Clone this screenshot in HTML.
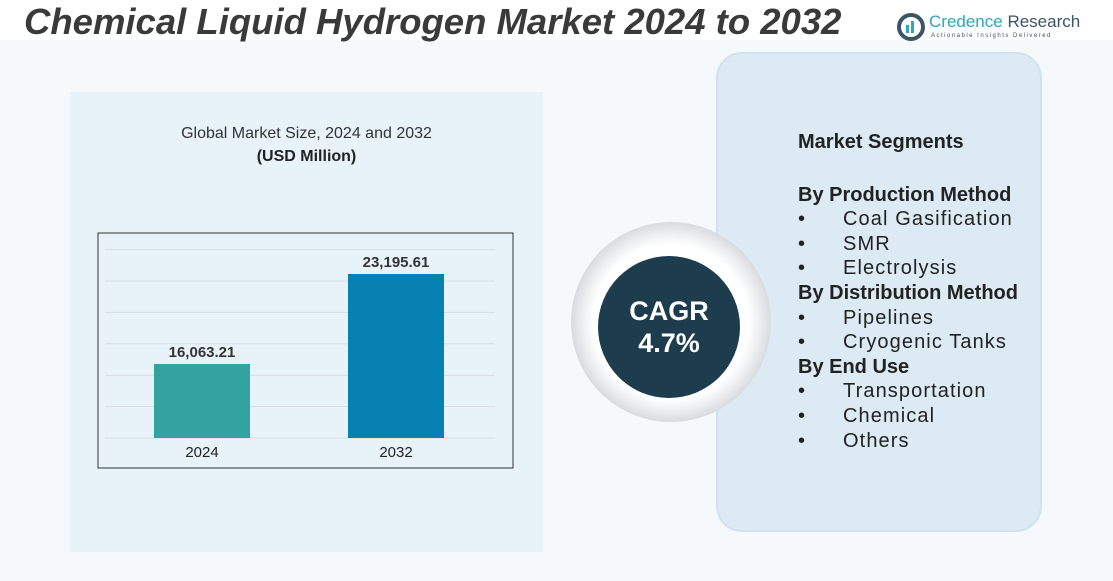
<!DOCTYPE html>
<html><head><meta charset="utf-8"><style>
body{margin:0;width:1113px;height:581px;overflow:hidden;background:#fff;font-family:"Liberation Sans",sans-serif;position:relative}
.abs{position:absolute}
.it span{letter-spacing:1.1px}
</style></head><body>
<div class="abs" style="left:0;top:40px;width:1113px;height:541px;background:#f6f9fb"></div>
<div class="abs" style="left:24px;top:1px;font-size:36.5px;font-weight:bold;font-style:italic;color:#3a3a3a;white-space:nowrap">Chemical Liquid Hydrogen Market 2024 to 2032</div>
<div class="abs" style="left:897px;top:10px;width:200px;height:34px">
 <svg width="28" height="28" style="position:absolute;left:0;top:3px"><circle cx="14" cy="14" r="12" fill="none" stroke="#3b5566" stroke-width="4"/><rect x="9" y="12" width="3" height="8" fill="#2fa7b9"/><rect x="14" y="8" width="3" height="12" fill="#2fa7b9"/></svg>
 <div class="abs" style="left:32px;top:2px;font-size:17px;color:#2fa7b9;white-space:nowrap">Credence <span style="color:#3b5566">Research</span></div>
 <div class="abs" style="left:34px;top:23px;font-size:6px;color:#3b5566;letter-spacing:1.5px;white-space:nowrap">Actionable Insights Delivered</div>
</div>
<div class="abs" style="left:70px;top:92px;width:473px;height:460px;background:#e8f2f9"></div>
<div class="abs" style="left:70px;top:125px;width:473px;text-align:center;font-size:16px;color:#333">Global Market Size, 2024 and 2032</div>
<div class="abs" style="left:70px;top:148px;width:473px;text-align:center;font-size:16px;font-weight:bold;color:#222">(USD Million)</div>
<svg class="abs" id="chart" style="left:0;top:0" width="1113" height="581"></svg>
<div class="abs" style="left:716px;top:52px;width:322px;height:476px;background:#dbeaf3;border-radius:26px;border:2px solid #cfe2ee"></div>
<div class="abs" style="left:571px;top:222px;width:200px;height:200px;border-radius:50%;background:radial-gradient(circle,#fff 55%,#d5d9dc 72%,#fff 73%)"></div>
<div class="abs" style="left:598px;top:256px;width:142px;height:142px;border-radius:50%;background:#1d3d4f;color:#fff;text-align:center;font-weight:bold;font-size:27px;line-height:32px;padding-top:39px;box-sizing:border-box">CAGR<br>4.7%</div>
<div class="abs it" style="left:798px;top:130px;font-size:20px;color:#222;line-height:24.6px">
<div style="font-weight:bold;margin-bottom:28px">Market Segments</div>
<div style="font-weight:bold">By Production Method</div>
<div>•<span style="margin-left:38px">Coal Gasification</span></div>
<div>•<span style="margin-left:38px">SMR</span></div>
<div>•<span style="margin-left:38px">Electrolysis</span></div>
<div style="font-weight:bold">By Distribution Method</div>
<div>•<span style="margin-left:38px">Pipelines</span></div>
<div>•<span style="margin-left:38px">Cryogenic Tanks</span></div>
<div style="font-weight:bold">By End Use</div>
<div>•<span style="margin-left:38px">Transportation</span></div>
<div>•<span style="margin-left:38px">Chemical</span></div>
<div>•<span style="margin-left:38px">Others</span></div>
</div>
<script>
const categories=["2024","2032"];
const values=[16063.21,23195.61];
const valueLabels=["16,063.21","23,195.61"];
const colors=["#33a3a2","#0681b1"];
const NS="http://www.w3.org/2000/svg";
const svg=document.getElementById('chart');
const plotL=98,plotT=233,plotW=415,plotH=235,base=438,yMin=10200,pxPer=0.01262;
function y(v){return base-(v-yMin)*pxPer;}
function x(i){return 154+i*194;}
function mk(t,a){const e=document.createElementNS(NS,t);for(const k in a)e.setAttribute(k,a[k]);svg.appendChild(e);return e;}
const box=mk('rect',{x:plotL,y:plotT,width:plotW,height:plotH,fill:'none',stroke:'#333','stroke-width':1});


for(let k=0;k<7;k++){const gy=base-k*31.4;const g=mk('line',{x1:105,x2:495,y1:gy,y2:gy,stroke:'#d6dde2','stroke-width':1});

}
categories.forEach((c,i)=>{
 const b=mk('rect',{x:x(i),y:y(values[i]),width:96,height:base-y(values[i]),fill:colors[i]});
 
 
 const t=mk('text',{x:x(i)+48,y:y(values[i])-7,'text-anchor':'middle','font-size':15,'font-weight':'bold',fill:'#333','font-family':'Liberation Sans'});t.textContent=valueLabels[i];
 
 
 const l=mk('text',{x:x(i)+48,y:457,'text-anchor':'middle','font-size':15,fill:'#222','font-family':'Liberation Sans'});l.textContent=c;
 
 
});
</script>
</body></html>
